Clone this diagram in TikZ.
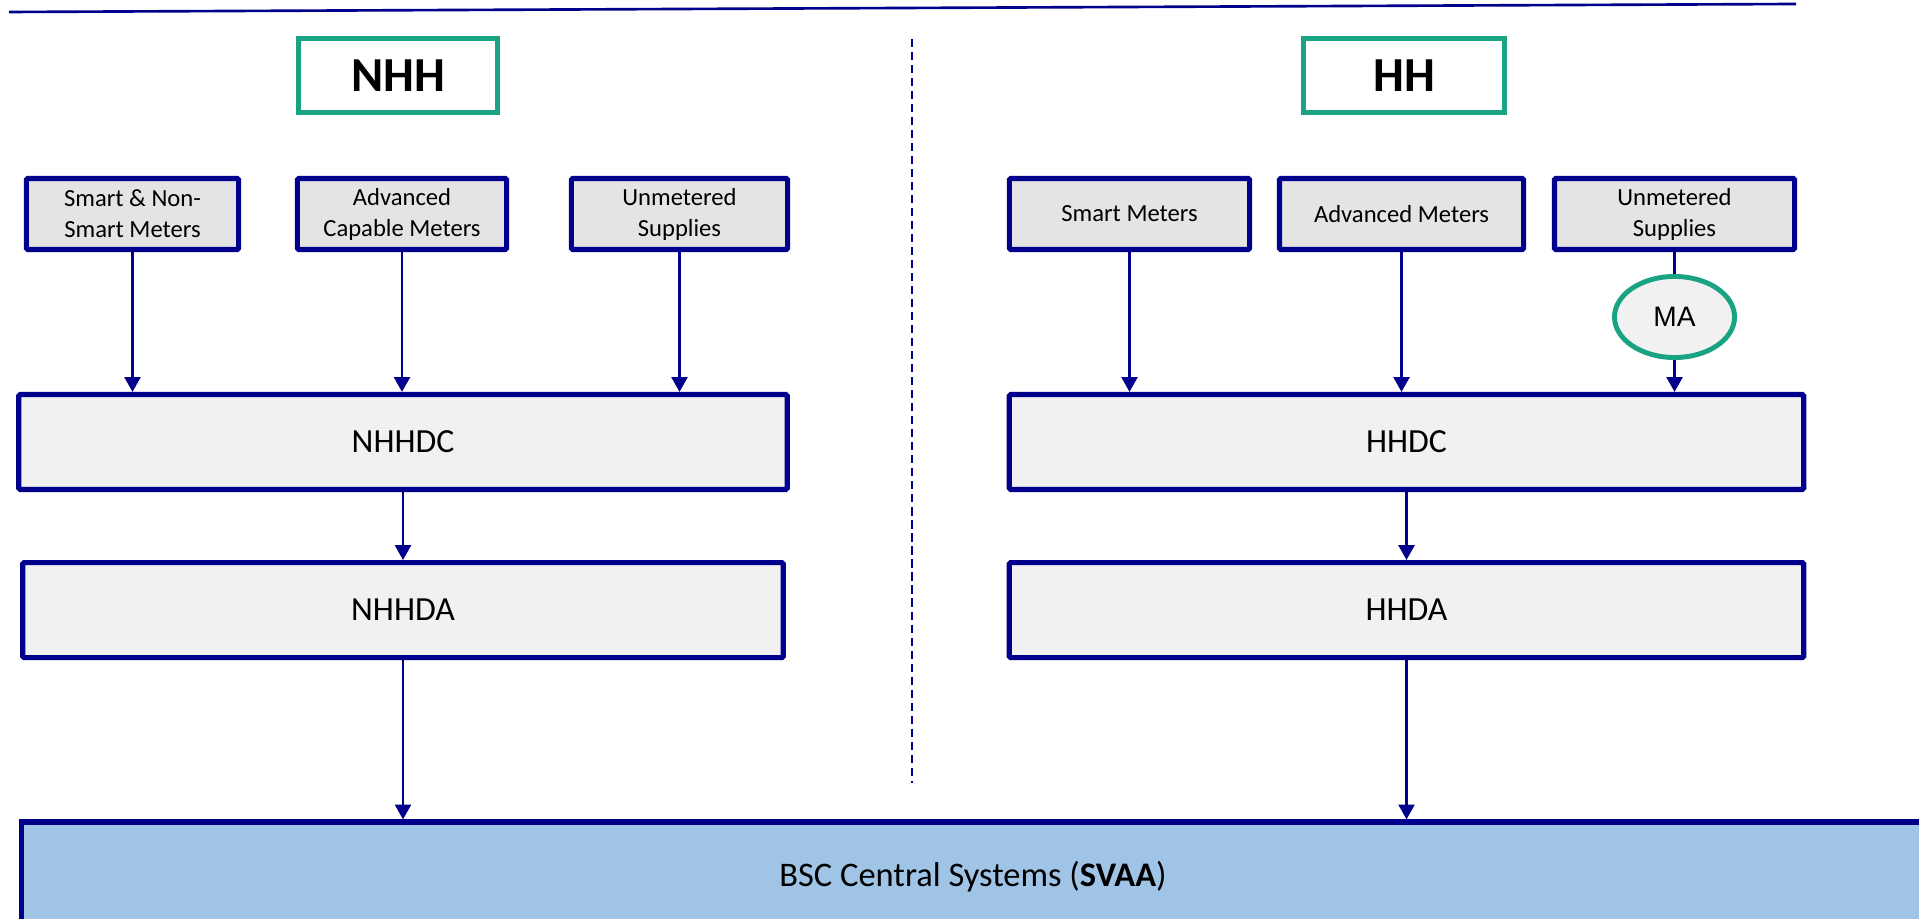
\documentclass[tikz,border=0pt]{standalone}
\usepackage{fontspec}
\setmainfont{Carlito}
\newfontfamily\maFont{Liberation Sans}
\usetikzlibrary{shapes.geometric,arrows.meta}
\definecolor{navyline}{RGB}{0,0,140}
\definecolor{tealline}{RGB}{26,163,130}
\definecolor{meterfill}{RGB}{228,228,228}
\definecolor{agentfill}{RGB}{241,241,241}
\definecolor{svaafill}{RGB}{160,196,230}

\begin{document}
\begin{tikzpicture}[x=0.01cm,y=-0.01cm,>={Triangle[length=4.2pt,width=4.5pt]},node distance=1.68cm,
    title node/.style={draw=tealline,line width=1.3pt,fill=white,inner sep=0pt,minimum height=0.74cm,font=\fontsize{13.9pt}{16pt}\selectfont\bfseries},
    meter node/.style={draw=navyline,line width=1.45pt,rounded corners=0.4pt,fill=meterfill,inner sep=0pt,minimum height=0.71cm,align=center,font=\fontsize{7pt}{8.8pt}\selectfont},
    agent node/.style={draw=navyline,line width=1.45pt,rounded corners=0.4pt,fill=agentfill,inner sep=0pt,minimum height=0.95cm,font=\fontsize{9.6pt}{11pt}\selectfont},
    ma node/.style={ellipse,draw=tealline,line width=1.4pt,fill=agentfill,inner sep=0pt,minimum width=1.2cm,minimum height=0.81cm,font=\maFont\fontsize{8pt}{9pt}\selectfont},
    system node/.style={draw=navyline,line width=1.45pt,fill=svaafill,inner sep=0pt,minimum width=19.02cm,minimum height=1.1cm,font=\fontsize{9.8pt}{11pt}\selectfont}]
    \useasboundingbox (0,0) rectangle (1919,919);

    \draw[navyline,line width=0.75pt] (9,12) -- (1796,4);
    \draw[navyline,line width=0.45pt,dash pattern=on 2.3pt off 1.4pt] (912,39) -- (912,783);

    \node[title node,minimum width=1.99cm] (nhh) at (398,75.5) {NHH};
    \node[title node,minimum width=2.01cm] (hh) at (1404,75.5) {HH};

    \node[meter node,minimum width=2.12cm] (smartnhh) at (132.5,214) {Smart \& Non-\\Smart Meters};
    \node[meter node,minimum width=2.09cm] (advnhh) at (402,214) {Advanced\\Capable Meters};
    \node[meter node,minimum width=2.16cm] (unmnhh) at (679.5,214) {Unmetered\\Supplies};
    \node[meter node,minimum width=2.4cm] (smarthh) at (1129.5,214) {Smart Meters};
    \node[meter node,minimum width=2.44cm] (advhh) at (1401.5,214) {Advanced Meters};
    \node[meter node,minimum width=2.4cm] (unmhh) at (1674.5,214) {Unmetered\\Supplies};

    \node[ma node] (ma) at (1674.5,317) {MA};

    \node[agent node,minimum width=7.68cm] (nhhdc) at (403,442) {NHHDC};
    \node[agent node,minimum width=7.6cm] (nhhda) [below of=nhhdc] {NHHDA};
    \node[agent node,minimum width=7.94cm] (hhdc) at (1406.5,442) {HHDC};
    \node[agent node,minimum width=7.94cm] (hhda) [below of=hhdc] {HHDA};

    \node[system node] (bsc) at (973,877) {BSC Central Systems (\textbf{SVAA})};

    \path[->,navyline,line width=0.75pt]
        (smartnhh) edge (smartnhh.south |- nhhdc.north)
        (advnhh) edge (advnhh.south |- nhhdc.north)
        (unmnhh) edge (unmnhh.south |- nhhdc.north)
        (nhhdc) edge (nhhda)
        (nhhda) edge (nhhda.south |- bsc.north)
        (smarthh) edge (smarthh.south |- hhdc.north)
        (advhh) edge (advhh.south |- hhdc.north)
        (unmhh) edge[-] (ma)
        (ma) edge (ma.south |- hhdc.north)
        (hhdc) edge (hhda)
        (hhda) edge (hhda.south |- bsc.north)
        ;
\end{tikzpicture}
\end{document}
